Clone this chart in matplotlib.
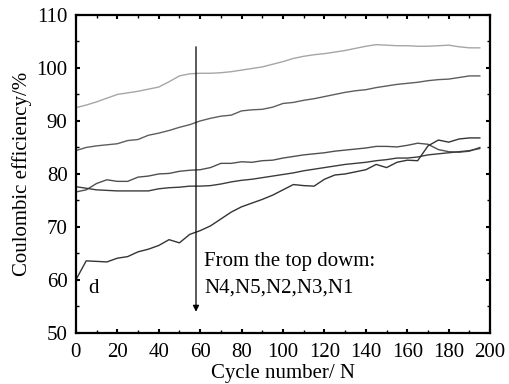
import matplotlib
matplotlib.use("Agg")
import matplotlib.pyplot as plt
from matplotlib.ticker import MultipleLocator

# cycle numbers (shared by all five curves)
cycles = list(range(0, 200, 5))

# coulombic efficiency (%)
n4 = [92.5, 93.0, 93.6, 94.3, 95.0, 95.3, 95.6, 96.0, 96.4, 97.4,
      98.5, 98.9, 99.0, 99.0, 99.1, 99.3, 99.6, 99.9, 100.2, 100.7,
      101.2, 101.8, 102.2, 102.5, 102.7, 103.0, 103.3, 103.7, 104.1, 104.4,
      104.3, 104.2, 104.2, 104.1, 104.1, 104.2, 104.3, 104.0, 103.8, 103.8]
n5 = [84.4, 85.0, 85.3, 85.5, 85.7, 86.3, 86.5, 87.3, 87.7, 88.2,
      88.8, 89.3, 90.0, 90.5, 90.9, 91.1, 91.9, 92.1, 92.2, 92.6,
      93.3, 93.5, 93.9, 94.2, 94.6, 95.0, 95.4, 95.7, 95.9, 96.3,
      96.6, 96.9, 97.1, 97.3, 97.6, 97.8, 97.9, 98.2, 98.5, 98.5]
n2 = [76.6, 77.0, 78.2, 78.9, 78.6, 78.6, 79.4, 79.6, 80.0, 80.1,
      80.5, 80.7, 80.8, 81.2, 82.0, 82.0, 82.3, 82.2, 82.5, 82.6,
      83.0, 83.3, 83.6, 83.8, 84.0, 84.3, 84.5, 84.7, 84.9, 85.2,
      85.2, 85.1, 85.4, 85.8, 85.6, 84.6, 84.2, 84.1, 84.3, 85.0]
n3 = [77.6, 77.3, 77.0, 76.9, 76.8, 76.8, 76.8, 76.8, 77.2, 77.4,
      77.5, 77.7, 77.7, 77.8, 78.1, 78.5, 78.8, 79.0, 79.3, 79.6,
      79.9, 80.2, 80.6, 80.9, 81.2, 81.5, 81.8, 82.0, 82.2, 82.5,
      82.7, 83.0, 83.0, 83.2, 83.6, 83.8, 84.0, 84.2, 84.4, 84.8]
n1 = [60.0, 63.6, 63.5, 63.4, 64.1, 64.4, 65.3, 65.8, 66.5, 67.6,
      67.0, 68.6, 69.3, 70.2, 71.5, 72.8, 73.8, 74.5, 75.2, 76.0,
      77.0, 78.0, 77.8, 77.7, 79.0, 79.8, 80.0, 80.4, 80.8, 81.8,
      81.2, 82.2, 82.6, 82.5, 85.3, 86.4, 86.0, 86.6, 86.8, 86.8]

series = [("N4", n4, "#a6a6a6"), ("N5", n5, "#5e5e5e"), ("N2", n2, "#505050"),
          ("N3", n3, "#3c3c3c"), ("N1", n1, "#343434")]

plt.rcParams['font.family'] = ['Liberation Serif', 'DejaVu Serif']

fig = plt.figure(figsize=(5.09, 3.84), dpi=100)
ax = fig.add_axes([0.149, 0.133, 0.814, 0.828])

for name, vals, col in series:
    ax.plot(cycles, vals, color=col, linewidth=1.0)

# arrow marking the ordering of the curves
ax.annotate("", xy=(58, 54), xytext=(58, 104),
            arrowprops=dict(arrowstyle="-|>", color="black", lw=0.9,
                            mutation_scale=9, shrinkA=0, shrinkB=0))
ax.text(62, 63.4, "From the top dowm:", fontsize=15, va="center")
ax.text(62, 58.4, "N4,N5,N2,N3,N1", fontsize=15, va="center")
ax.text(6, 58.3, "d", fontsize=15, va="center")

ax.set_xlim(0, 200)
ax.set_ylim(50, 110)
ax.xaxis.set_major_locator(MultipleLocator(20))
ax.xaxis.set_minor_locator(MultipleLocator(10))
ax.yaxis.set_major_locator(MultipleLocator(10))
ax.yaxis.set_minor_locator(MultipleLocator(5))
ax.tick_params(which="both", direction="in", top=True, right=True, labelsize=15)
ax.tick_params(axis="x", pad=7)
ax.tick_params(axis="y", pad=6)
ax.tick_params(which="major", length=3, width=1.5)
ax.tick_params(which="minor", length=2, width=1)
for s in ax.spines.values():
    s.set_linewidth(1.6)

ax.set_xlabel("Cycle number/ N", fontsize=15, labelpad=2)
ax.set_ylabel("Coulombic efficiency/%", fontsize=15, labelpad=3)

fig.savefig("out.png", dpi=100)
